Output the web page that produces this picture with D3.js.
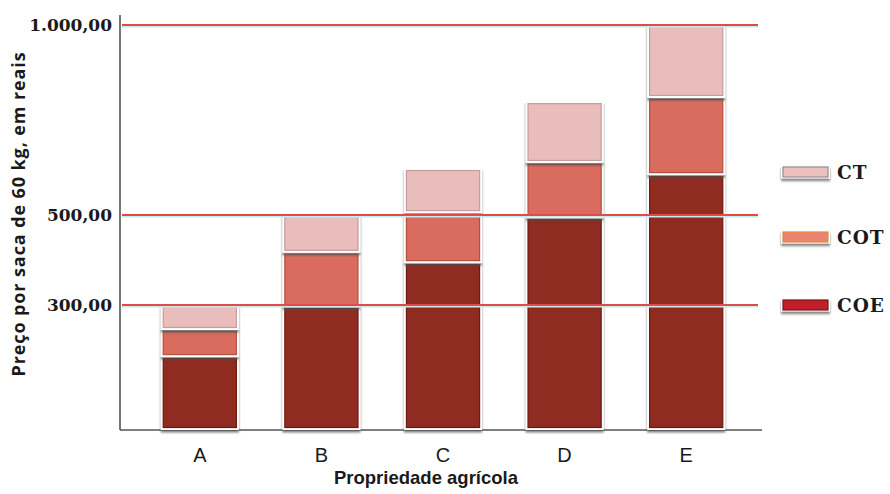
<!DOCTYPE html>
<html><head><meta charset="utf-8">
<script src="https://cdn.jsdelivr.net/npm/d3@7"></script>
<style>body{margin:0;background:#fff}svg{display:block}</style>
</head><body>
<svg id="c" width="890" height="494"></svg>
<script>
const categories = ["A","B","C","D","E"];
// cumulative cost levels (R$ per 60 kg bag)
const COE = [175, 295, 393, 493, 605];
const COT = [240, 416, 505, 637, 808];
const CT  = [300, 505, 621, 797, 1000];
const tickValues = [300, 500, 1000];
const seriesNames = ["CT","COT","COE"];

const svg = d3.select("#c");
const defs = svg.append("defs");
const f = defs.append("filter").attr("id","sh").attr("x","-20%").attr("y","-20%").attr("width","140%").attr("height","160%");
f.append("feDropShadow").attr("dx",0).attr("dy",2.5).attr("stdDeviation",1.3).attr("flood-color","#555").attr("flood-opacity",0.75);

const loc = d3.formatLocale({decimal:",", thousands:".", grouping:[3], currency:["R$",""]});
const fmt = loc.format(",.2f");

const y = d3.scaleLinear().domain([0,300,500,1000]).range([430,305,215,25]);
const x = d3.scaleBand().domain(categories).range([139,747]).paddingInner(0.39).paddingOuter(0.195);

const colors = {COE:"#8f2b20", COT:"#d96b5f", CT:"#e8bdbb"};
const inner = {COE:"#6e1a14", COT:"#b5503f", CT:"#c79c9b"};

// axes lines
svg.append("line").attr("x1",120).attr("x2",120).attr("y1",15).attr("y2",y(0)).attr("stroke","#555").attr("stroke-width",1.6);
svg.append("line").attr("x1",120).attr("x2",762).attr("y1",y(0)).attr("y2",y(0)).attr("stroke","#555").attr("stroke-width",1.6);

// bars
const segs = [];
categories.forEach((c,i)=>{
  segs.push({c, s:"COE", y0:0, y1:COE[i]});
  segs.push({c, s:"COT", y0:COE[i], y1:COT[i]});
  segs.push({c, s:"CT", y0:COT[i], y1:CT[i]});
});
const g = svg.append("g");
const bw = x.bandwidth();
const sg = g.selectAll("g.seg").data(segs).join("g").attr("class","seg");
sg.append("rect")
  .attr("x", d=>x(d.c)-2).attr("y", d=>y(d.y1)-1)
  .attr("width", bw+4).attr("height", d=>y(d.y0)-y(d.y1)+1)
  .attr("fill","#fff").attr("filter","url(#sh)");
sg.append("rect")
  .attr("x", d=>x(d.c)+0.5).attr("y", d=>y(d.y1)+1.5)
  .attr("width", bw-1).attr("height", d=>Math.max(0,y(d.y0)-y(d.y1)-4))
  .attr("fill", d=>colors[d.s]).attr("stroke", d=>inner[d.s]).attr("stroke-width",1.2);

// gridlines on top
const gl = svg.append("g");
tickValues.forEach(v=>{
  gl.append("line").attr("x1",122).attr("x2",758).attr("y1",y(v)+1.8).attr("y2",y(v)+1.8).attr("stroke","#c8eaea").attr("stroke-width",1.5);
  gl.append("line").attr("x1",122).attr("x2",758).attr("y1",y(v)).attr("y2",y(v)).attr("stroke","#e8474a").attr("stroke-width",1.8);
});

// y tick labels
svg.append("g").selectAll("text").data(tickValues).join("text")
  .attr("x",112).attr("y",d=>y(d)+6).attr("text-anchor","end")
  .attr("font-family","'DejaVu Serif',serif").attr("font-weight","bold").attr("font-size",17)
  .attr("fill","#1a1a1a").text(d=>fmt(d));

// x labels
svg.append("g").selectAll("text").data(categories).join("text")
  .attr("x",d=>x(d)+bw/2).attr("y",462).attr("text-anchor","middle")
  .attr("font-family","'Liberation Sans',Arial,sans-serif").attr("font-size",20)
  .attr("fill","#1a1a1a").text(d=>d);

// axis titles
svg.append("text").attr("x",426).attr("y",484).attr("text-anchor","middle")
  .attr("font-family","'Liberation Sans',Arial,sans-serif").attr("font-weight","bold").attr("font-size",18.5)
  .attr("fill","#1a1a1a").text("Propriedade agrícola");
svg.append("text").attr("transform","translate(25,214) rotate(-90)").attr("text-anchor","middle")
  .attr("font-family","'Open Sans','Liberation Sans',sans-serif").attr("font-weight","bold").attr("font-size",18)
  .attr("letter-spacing",0.9)
  .attr("fill","#1a1a1a").text("Preço por saca de 60 kg, em reais");

// legend
const legColors = {CT:"#ecc0bf", COT:"#ea8470", COE:"#c0202a"};
const legStroke = {CT:"#9a8a8a", COT:"#e08a3a", COE:"#7a1515"};
const legY = {CT:167, COT:232, COE:300};
const lg = svg.append("g");
seriesNames.forEach(s=>{
  lg.append("rect").attr("x",781).attr("y",legY[s]-1.5).attr("width",49).attr("height",13).attr("fill","#fff").attr("filter","url(#sh)");
  lg.append("rect").attr("x",783).attr("y",legY[s]).attr("width",45).attr("height",10)
    .attr("fill",legColors[s]).attr("stroke",legStroke[s]).attr("stroke-width",1.2);
  lg.append("text").attr("x",837).attr("y",legY[s]+12).attr("font-family","'DejaVu Serif',serif")
    .attr("font-weight","bold").attr("font-size",18.5).attr("letter-spacing",1).attr("fill","#1a1a1a").text(s);
});
</script>
</body></html>
